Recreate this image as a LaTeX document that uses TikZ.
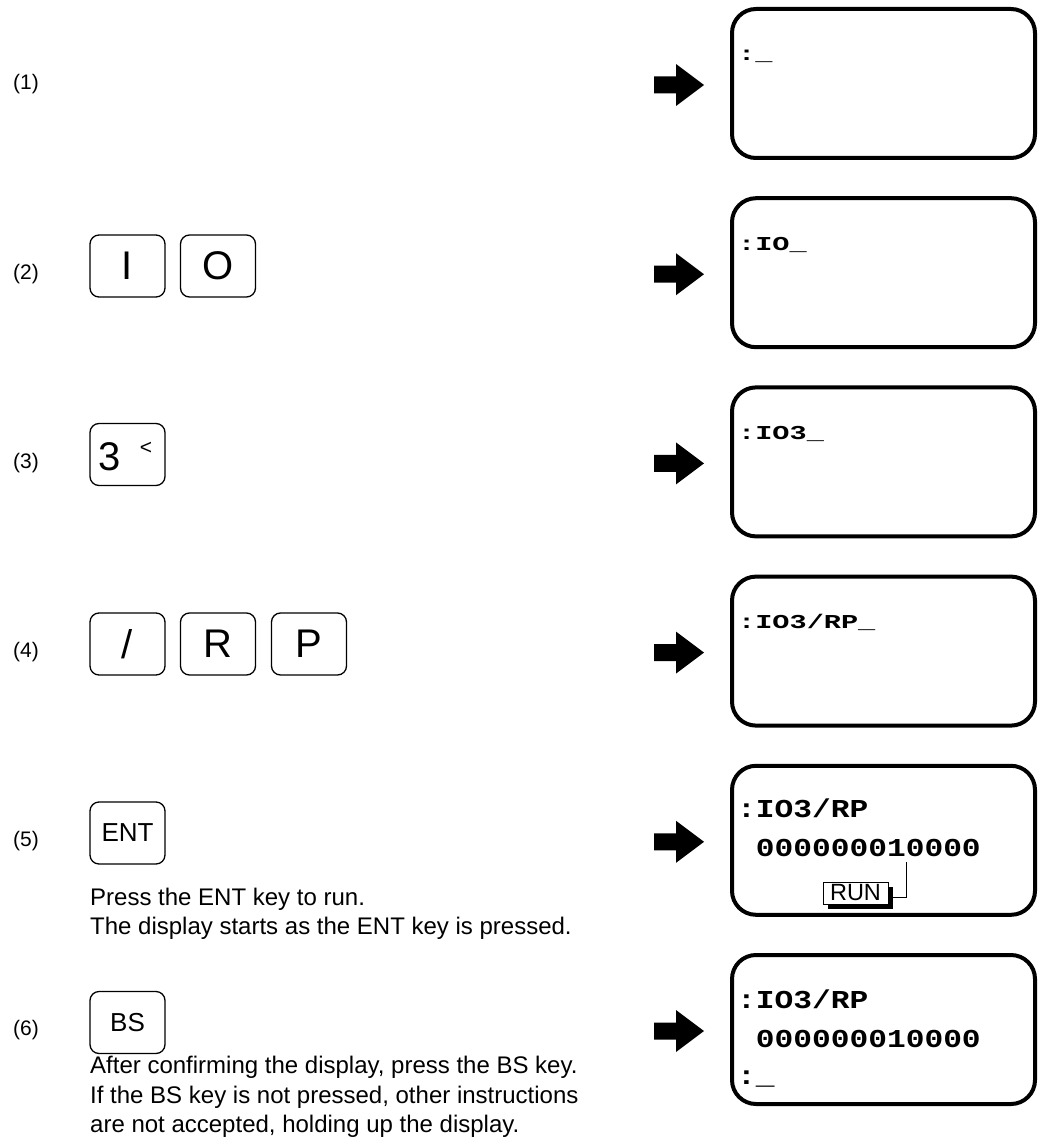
\documentclass[tikz,border=0pt]{standalone}
\usepackage{fontspec}
\setmainfont{Liberation Sans}
\newfontfamily\lcdfont{Liberation Mono}
\usepackage{graphicx}
\usetikzlibrary{shadows}
\newcommand\lcdS[1]{{\lcdfont\bfseries\fontsize{19.7}{19.7}\selectfont\scalebox{1.45}[1]{#1}}}
\newcommand\lcdL[1]{{\lcdfont\bfseries\fontsize{25.8}{25.8}\selectfont\scalebox{1.21}[1]{#1}}}
\begin{document}
\begin{tikzpicture}[x=1pt,y=-1pt,
  keybox/.style={draw, line width=1.3pt, rounded corners=9pt, minimum width=75pt, minimum height=62pt, inner sep=0pt, font=\fontsize{40}{40}\selectfont},
  smallkey/.style={keybox, font=\fontsize{26}{26}\selectfont},
  display/.style={draw, line width=4pt, rounded corners=24pt, minimum width=303pt, minimum height=149pt, inner sep=0pt},
  steplabel/.style={font=\fontsize{21}{21}\selectfont, inner sep=0pt},
  lcd/.style={anchor=base west, inner sep=0pt},
  desc/.style={anchor=base west, inner sep=0pt, font=\fontsize{24}{29}\selectfont},
  runbox/.style={draw, line width=0.8pt, fill=white, minimum width=65pt, minimum height=22pt, inner sep=0pt, font=\fontsize{23.5}{23.5}\selectfont, drop shadow={shadow xshift=5pt, shadow yshift=-5pt, fill=black, opacity=1}},
  bigarrow/.pic={\fill (-50,-8.5) -- (-28,-8.5) -- (-28,-21) -- (0,0) -- (-28,21) -- (-28,8.5) -- (-50,8.5) -- cycle;}
]
\useasboundingbox (0,0) rectangle (1042,1139);

% step labels
\node[steplabel] (s1) at (26,84.5) {(1)};
\node[steplabel] (s2) at (26,273.7) {(2)};
\node[steplabel] (s3) at (26,462.9) {(3)};
\node[steplabel] (s4) at (26,652.1) {(4)};
\node[steplabel] (s5) at (26,841.3) {(5)};
\node[steplabel] (s6) at (26,1030.5) {(6)};

% keys
\node[keybox] (kI) at (127.5,266) {I};
\node[keybox] (kO) at (218,266) {O};
\node[keybox] (k3) at (127.5,454.5) {};
\node[inner sep=0pt, font=\fontsize{40}{40}\selectfont] (k3a) at (110,456.5) {3};
\node[inner sep=0pt, font=\fontsize{21}{21}\selectfont] (k3b) at (146,448) {<};
\node[keybox] (kS) at (127.5,644) {/};
\node[keybox] (kR) at (218,644) {R};
\node[keybox] (kP) at (309,644) {P};
\node[smallkey] (kENT) at (127.5,833) {ENT};
\node[smallkey] (kBS) at (127.5,1022.5) {BS};

% descriptions
\node[desc] (t5a) at (90,905) {Press the ENT key to run.};
\node[desc] (t5b) at (90,934) {The display starts as the ENT key is pressed.};
\node[desc] (t6a) at (90,1073) {After confirming the display, press the BS key.};
\node[desc] (t6b) at (90,1103) {If the BS key is not pressed, other instructions};
\node[desc] (t6c) at (90,1132) {are not accepted, holding up the display.};

% arrows
\pic at (704,85) {bigarrow};
\pic at (704,274.2) {bigarrow};
\pic at (704,463.4) {bigarrow};
\pic at (704,652.6) {bigarrow};
\pic at (704,841.8) {bigarrow};
\pic at (704,1031) {bigarrow};

% displays
\node[display] (d1) at (883.5,83.5) {};
\node[display] (d2) at (883.5,272.7) {};
\node[display] (d3) at (883.5,461.9) {};
\node[display] (d4) at (883.5,651.1) {};
\node[display] (d5) at (883.5,840.3) {};
\node[display] (d6) at (883.5,1029.5) {};

\node[lcd] (d1t) at (738,61) {\lcdS{:\_}};
\node[lcd] (d2t) at (738,250.2) {\lcdS{:IO\_}};
\node[lcd] (d3t) at (738,439.4) {\lcdS{:IO3\_}};
\node[lcd] (d4t) at (738,628.6) {\lcdS{:IO3/RP\_}};

\node[lcd] (d5a) at (737,817.3) {\lcdL{:IO3/RP}};
\node[lcd] (d5b) at (737,856.8) {\lcdL{\ 000000010000}};
\node[runbox] (run) at (855.5,893) {RUN};
\coordinate (one) at (906,862);
\draw[line width=0.9pt] ([xshift=5pt,yshift=-4pt]run.east) -| (one);

\node[lcd] (d6a) at (737,1008) {\lcdL{:IO3/RP}};
\node[lcd] (d6b) at (737,1047) {\lcdL{\ 000000010000}};
\node[lcd] (d6c) at (737,1084) {\lcdL{:\_}};
\end{tikzpicture}
\end{document}
